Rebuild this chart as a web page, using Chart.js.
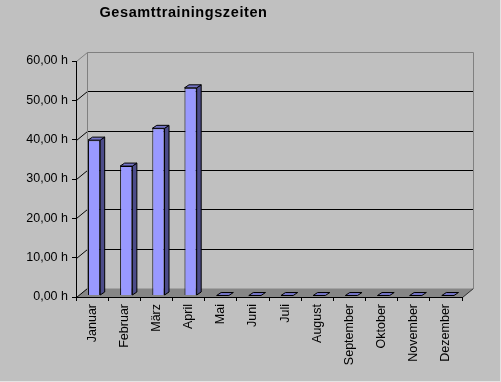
<!DOCTYPE html>
<html>
<head>
<meta charset="utf-8">
<script src="https://cdn.jsdelivr.net/npm/chart.js@4/dist/chart.umd.min.js"></script>
<style>
  body { margin: 0; background: #c0c0c0; }
  canvas { display: block; }
</style>
</head>
<body>
<canvas id="chart" width="501" height="382"></canvas>
<script>
var title = 'Gesamttrainingszeiten';
var months = ['Januar', 'Februar', 'März', 'April', 'Mai', 'Juni', 'Juli',
  'August', 'September', 'Oktober', 'November', 'Dezember'];
var hours = [39.5, 32.9, 42.5, 52.8, 0, 0, 0, 0, 0, 0, 0, 0];
var yTicks = [0, 10, 20, 30, 40, 50, 60];

var FONT = 'Liberation Sans, Arial, sans-serif';
var wall = { x: 11, y: -9 };    // depth of the back wall
var depth = { x: 4.5, y: -3 };  // depth of a single bar
var shift = { x: 2, y: -1.5 };  // bars sit a little behind the front edge

function poly(ctx, pts, fill, stroke) {
  ctx.beginPath();
  ctx.moveTo(pts[0][0], pts[0][1]);
  for (var i = 1; i < pts.length; i++) ctx.lineTo(pts[i][0], pts[i][1]);
  ctx.closePath();
  if (fill) { ctx.fillStyle = fill; ctx.fill(); }
  if (stroke) { ctx.strokeStyle = stroke; ctx.lineWidth = 1; ctx.stroke(); }
}

function line(ctx, x1, y1, x2, y2, color) {
  ctx.beginPath();
  ctx.moveTo(x1, y1);
  ctx.lineTo(x2, y2);
  ctx.strokeStyle = color;
  ctx.lineWidth = 1;
  ctx.stroke();
}

var box3d = {
  id: 'box3d',
  beforeDraw: function (chart) {
    var ctx = chart.ctx, a = chart.chartArea, ys = chart.scales.y;
    ctx.save();
    ctx.fillStyle = '#c0c0c0';
    ctx.fillRect(0, 0, chart.width, chart.height);
    ctx.fillStyle = '#e4e4e4';
    ctx.fillRect(chart.width - 1, 0, 1, chart.height);
    ctx.fillRect(0, chart.height - 1, chart.width, 1);

    var L = a.left + 0.5, R = a.right + 0.5;
    var y0 = Math.round(ys.getPixelForValue(0)) + 0.5;
    var yTop = Math.round(ys.getPixelForValue(60)) + 0.5;

    // floor
    poly(ctx, [[L, y0], [R, y0], [R + wall.x, y0 + wall.y], [L + wall.x, y0 + wall.y]], '#868686');
    line(ctx, R, y0, R + wall.x, y0 + wall.y, '#303030');

    // gridlines on the back wall and the links to the front axis
    yTicks.forEach(function (v) {
      var y = Math.round(ys.getPixelForValue(v)) + 0.5;
      if (v > 0 && v < 60) {
        line(ctx, L + wall.x, y + wall.y, R + wall.x, y + wall.y, '#000');
      }
      line(ctx, L, y, L + wall.x, y + wall.y, v === 60 ? '#808080' : '#000');
    });

    // wall outline
    ctx.beginPath();
    ctx.moveTo(L + wall.x, y0 + wall.y);
    ctx.lineTo(L + wall.x, yTop + wall.y);
    ctx.lineTo(R + wall.x, yTop + wall.y);
    ctx.lineTo(R + wall.x, y0 + wall.y);
    ctx.strokeStyle = '#808080';
    ctx.stroke();
    ctx.restore();
  },
  beforeDatasetsDraw: function (chart) {
    chart.ctx.save();
    chart.ctx.translate(shift.x, shift.y);
  },
  afterDatasetsDraw: function (chart) {
    var ctx = chart.ctx;
    chart.getDatasetMeta(0).data.forEach(function (bar) {
      var l = bar.x - bar.width / 2, r = bar.x + bar.width / 2;
      var t = bar.y, b = bar.base;
      if (b - t > 0.5) {
        poly(ctx, [[r, t], [r + depth.x, t + depth.y], [r + depth.x, b + depth.y], [r, b]], '#4c4c8a', '#000');
      }
      poly(ctx, [[l, t], [l + depth.x, t + depth.y], [r + depth.x, t + depth.y], [r, t]], '#7373c6', '#000');
    });
    ctx.restore();
  },
  afterDraw: function (chart) {
    var ctx = chart.ctx;
    ctx.save();
    ctx.font = 'bold 14.5px ' + FONT;
    ctx.letterSpacing = '0.6px';
    ctx.fillStyle = '#000';
    ctx.textAlign = 'center';
    ctx.textBaseline = 'alphabetic';
    ctx.fillText(title, 183.5, 17);
    ctx.restore();
  }
};

new Chart(document.getElementById('chart'), {
  type: 'bar',
  data: {
    labels: months,
    datasets: [{
      data: hours,
      backgroundColor: '#9999ff',
      borderColor: '#000',
      borderWidth: 1,
      barPercentage: 0.38,
      categoryPercentage: 1
    }]
  },
  options: {
    responsive: false,
    devicePixelRatio: 1,
    animation: false,
    layout: { padding: { left: 0, top: 61, right: 39, bottom: 0 } },
    plugins: {
      legend: { display: false },
      title: { display: false },
      tooltip: { enabled: false }
    },
    scales: {
      x: {
        afterFit: function (s) { s.height = 85; },
        grid: { display: true, drawOnChartArea: false, drawTicks: true, tickLength: 4, color: '#000', offset: true },
        border: { display: true, color: '#000' },
        ticks: {
          color: '#000',
          font: { family: FONT, size: 12.5 },
          padding: 3,
          minRotation: 90,
          maxRotation: 90,
          autoSkip: false
        }
      },
      y: {
        min: 0,
        max: 60,
        afterFit: function (s) { s.width = 76; },
        afterBuildTicks: function (s) { s.ticks = yTicks.map(function (v) { return { value: v }; }); },
        grid: { display: true, drawOnChartArea: false, drawTicks: true, tickLength: 4, color: '#000' },
        border: { display: true, color: '#000' },
        ticks: {
          color: '#000',
          font: { family: FONT, size: 12.5 },
          padding: 4,
          callback: function (v) { return v.toFixed(2).replace('.', ',') + ' h'; }
        }
      }
    }
  },
  plugins: [box3d]
});
</script>
</body>
</html>
